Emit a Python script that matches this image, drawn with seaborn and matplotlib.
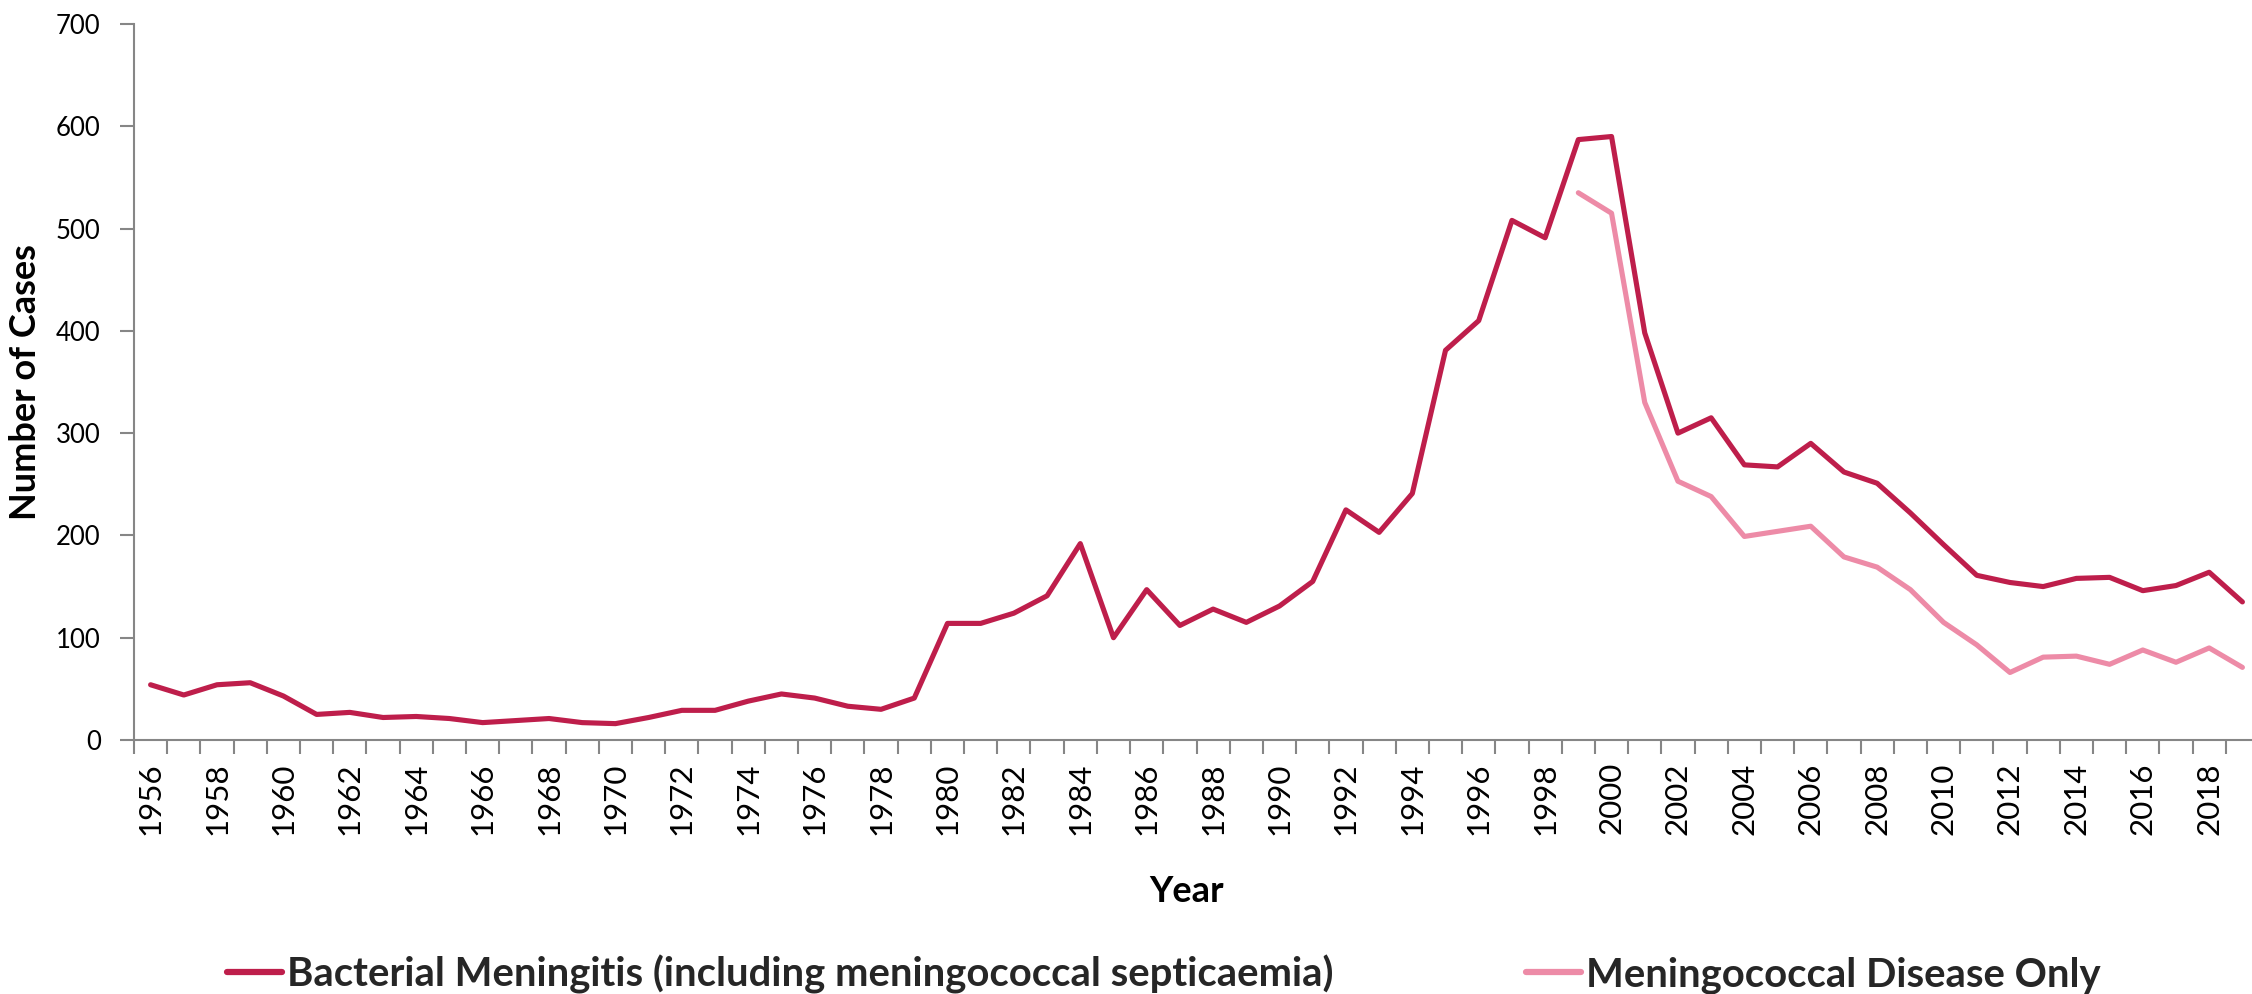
import numpy as np
import pandas as pd
import matplotlib
matplotlib.use("Agg")
import matplotlib.pyplot as plt
import seaborn as sns

# ---- data ----
years = list(range(1956, 2020))
bacterial = [54, 44, 54, 56, 43, 25, 27, 22, 23, 21,
             17, 19, 21, 17, 16, 22, 29, 29, 38, 45,
             41, 33, 30, 41, 114, 114, 124, 141, 192, 100,
             147, 112, 128, 115, 131, 155, 225, 203, 241, 381,
             410, 508, 491, 587, 590, 398, 300, 315, 269, 267,
             290, 262, 251, 222, 191, 161, 154, 150, 158, 159,
             146, 151, 164, 135]
mening_years = list(range(1999, 2020))
meningococcal = [535, 515, 330, 253, 238, 199, 204, 209, 179, 169,
                 147, 115, 93, 66, 81, 82, 74, 88, 76, 90, 71]
label_bact = "Bacterial Meningitis (including meningococcal septicaemia)"
label_men = "Meningococcal Disease Only"
y_ticks = [0, 100, 200, 300, 400, 500, 600, 700]
x_label_years = list(range(1956, 2020, 2))

dark = "#BE1E4B"
pink = "#ED8BA7"
grey = "#868686"

sns.set_theme(style="white")
plt.rcParams["font.family"] = ["Lato", "DejaVu Sans"]

W, H = 2252, 994
fig = plt.figure(figsize=(W / 100, H / 100), dpi=100)
ax = fig.add_axes([134 / W, 1 - 740 / H, (2259 - 134) / W, (740 - 24) / H])

df_b = pd.DataFrame({"Year": years, "Cases": bacterial})
df_m = pd.DataFrame({"Year": mening_years, "Cases": meningococcal})
sns.lineplot(data=df_b, x="Year", y="Cases", ax=ax, color=dark, linewidth=3.7,
             label=label_bact, solid_joinstyle="round", solid_capstyle="round")
sns.lineplot(data=df_m, x="Year", y="Cases", ax=ax, color=pink, linewidth=3.7,
             label=label_men, solid_joinstyle="round", solid_capstyle="round")

ax.set_xlim(years[0] - 0.5, years[-1] + 0.5)
ax.set_ylim(0, 700)
ax.set_yticks(y_ticks)
ax.set_yticklabels([str(v) for v in y_ticks])

ax.set_xticks(x_label_years)
ax.set_xticklabels([str(y) for y in x_label_years], rotation=90)
ax.set_xticks(np.arange(years[0] - 0.5, years[-1] + 1.0, 1.0), minor=True)

for s in ["top", "right"]:
    ax.spines[s].set_visible(False)
for s in ["left", "bottom"]:
    ax.spines[s].set_color(grey)
    ax.spines[s].set_linewidth(1.5)

ax.tick_params(axis="x", which="major", length=0, pad=16, labelsize=22.5, labelcolor="black")
ax.tick_params(axis="x", which="minor", length=10, width=1.5, color=grey, direction="out", bottom=True)
ax.tick_params(axis="y", which="major", length=10, width=1.5, color=grey, direction="out",
               pad=14, labelsize=18.5, labelcolor="black", left=True)

ax.set_xlabel("Year", fontsize=26, fontweight="bold", color="black", va="center")
ax.xaxis.set_label_coords((1187 - 134) / (2259 - 134), -(892 - 740) / 716)
ax.set_ylabel("Number of Cases", fontsize=26, fontweight="bold", color="black", va="center")
ax.yaxis.set_label_coords((26 - 134) / (2259 - 134), 0.5)

ax.get_legend().remove()
handles, labels = ax.get_legend_handles_labels()
leg = fig.legend(handles, labels, loc="center left", bbox_to_anchor=(227 / W, 1 - 974 / H),
                 ncol=2, frameon=False, prop={"size": 28.8, "weight": "bold"},
                 handlelength=1.375, handletextpad=0.125, columnspacing=4.8,
                 borderpad=0, borderaxespad=0)
for line in leg.get_lines():
    line.set_linewidth(4.5)

fig.savefig("out.png", dpi=100)
